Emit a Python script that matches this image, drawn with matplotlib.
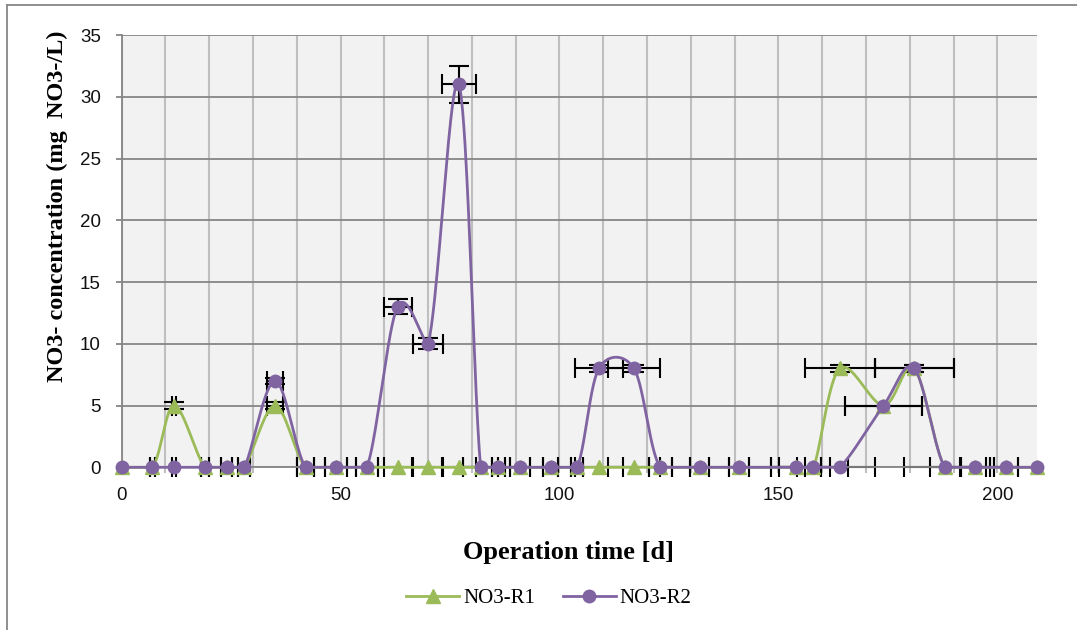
import numpy as np
import matplotlib
matplotlib.use("Agg")
import matplotlib.pyplot as plt
from matplotlib.lines import Line2D

# ---------------- data ----------------
days = [0, 7, 12, 19, 24, 28, 35, 42, 49, 56, 63, 70, 77, 82, 86, 91, 98, 104,
        109, 117, 123, 132, 141, 154, 158, 164, 174, 181, 188, 195, 202, 209]
no3_r1 = [0, 0, 5, 0, 0, 0, 5, 0, 0, 0, 0, 0, 0, 0, 0, 0, 0, 0,
          0, 0, 0, 0, 0, 0, 0, 8, 5, 8, 0, 0, 0, 0]
no3_r2 = [0, 0, 0, 0, 0, 0, 7, 0, 0, 0, 13, 10, 31, 0, 0, 0, 0, 0,
          8, 8, 0, 0, 0, 0, 0, 0, 5, 8, 0, 0, 0, 0]
xerr_r1 = [0, 0.5, 0.5, 1.0, 1.25, 1.35, 1.9, 2.0, 2.5, 2.5, 3.2, 3.5, 3.9, 4.0, 1.5, 2.2, 1.7, 1.3,
           5.5, 6.0, 2.6, 2.2, 2.3, 5.8, 3.7, 8.0, 8.7, 9.0, 3.4, 3.3, 2.7, 0]
xerr_r2 = [0, 0.5, 0.5, 1.0, 1.25, 1.35, 1.9, 2.0, 2.5, 2.5, 3.2, 3.5, 3.9, 4.0, 1.5, 2.2, 1.7, 1.3,
           5.5, 6.0, 2.6, 2.2, 2.3, 5.8, 7.9, 8.0, 8.7, 9.0, 9.4, 3.3, 2.7, 0]
yerr_r1 = [0, 0, 0.3, 0, 0, 0, 0.3, 0, 0, 0, 0, 0, 0, 0, 0, 0, 0, 0,
           0, 0, 0, 0, 0, 0, 0, 0.3, 0, 0.3, 0, 0, 0, 0]
yerr_r2 = [0, 0, 0, 0, 0, 0, 0.25, 0, 0, 0, 0.6, 0.45, 1.5, 0, 0, 0, 0, 0,
           0.3, 0.3, 0, 0, 0, 0, 0, 0, 0, 0.3, 0, 0, 0, 0]
series_names = ["NO3-R1", "NO3-R2"]
x_label = "Operation time [d]"
y_label = "NO3- concentration (mg  NO3-/L)"

GREEN = "#9BBB59"
PURPLE = "#8064A2"

fig = plt.figure(figsize=(10.77, 6.30), dpi=100)
fig.patch.set_facecolor("white")
W, H = 1077, 630
L, R, T, B = 121.7, 1036.7, 35.0, 467.3
ax = fig.add_axes([L / W, 1 - B / H, (R - L) / W, (B - T) / H])
ax.set_facecolor("#F2F2F2")
ax.set_xlim(0, 209)
ax.set_ylim(0, 35)


def smooth(ax, x, y, n=40, limit=0.5):
    """Excel-like smoothed line: Bezier segments, tangent (P2-P0)/6 computed
    in display space, limited to a fraction of the segment length and not
    allowed to sag below the lower end of its segment."""
    P = ax.transData.transform(np.column_stack([x, y]).astype(float))
    E = np.vstack([P[0], P, P[-1]])
    out = []
    t = np.linspace(0, 1, n)[:, None]
    for i in range(len(P) - 1):
        p0, p1, p2, p3 = E[i], E[i + 1], E[i + 2], E[i + 3]
        seglen = np.hypot(*(p2 - p1))
        h1 = (p2 - p0) / 6.0
        h2 = (p3 - p1) / 6.0
        for h in (h1, h2):
            ln = np.hypot(*h)
            if ln > limit * seglen and ln > 0:
                h *= limit * seglen / ln
        c1 = p1 + h1
        c2 = p2 - h2
        lo = min(p1[1], p2[1])
        c1[1] = max(c1[1], lo)
        c2[1] = max(c2[1], lo)
        seg = (1 - t) ** 3 * p1 + 3 * (1 - t) ** 2 * t * c1 + 3 * (1 - t) * t ** 2 * c2 + t ** 3 * p2
        out.append(seg if i == 0 else seg[1:])
    S = np.vstack(out)
    return ax.transData.inverted().transform(S)


x = np.array(days, dtype=float)
series = [
    (np.array(no3_r1, float), np.array(xerr_r1, float), np.array(yerr_r1, float), GREEN, "^", 10.5),
    (np.array(no3_r2, float), np.array(xerr_r2, float), np.array(yerr_r2, float), PURPLE, "o", 9.0),
]

handles = []
for k, (y, xe, ye, col, mk, ms) in enumerate(series):
    mx = xe > 0
    ax.errorbar(x[mx], y[mx], xerr=xe[mx], fmt="none", ecolor="black", elinewidth=1.5,
                capsize=7.5, capthick=1.5, zorder=2 + k * 0.1, clip_on=False)
    my = ye > 0
    if my.any():
        ax.errorbar(x[my], y[my], yerr=ye[my], fmt="none", ecolor="black", elinewidth=1.5,
                    capsize=7.5, capthick=1.5, zorder=2 + k * 0.1, clip_on=False)
for k, (y, xe, ye, col, mk, ms) in enumerate(series):
    s = smooth(ax, x, y)
    ax.plot(s[:, 0], s[:, 1], color=col, lw=2.0, zorder=3 + k, clip_on=False, solid_capstyle="round")
    ax.plot(x, y, linestyle="none", marker=mk, markersize=ms, color=col, mec=col,
            zorder=3.5 + k, clip_on=False)
    handles.append(Line2D([], [], color=col, lw=2.0, marker=mk, markersize=ms, mec=col))

ax.set_xticks([0, 50, 100, 150, 200])
ax.set_xticks(np.arange(0, 201, 10), minor=True)
ax.set_yticks(np.arange(0, 36, 5))

ax.grid(True, axis="x", which="both", color="#BFBFBF", lw=1.5, zorder=0)
ax.grid(True, axis="y", which="major", color="#868686", lw=1.3, zorder=0.5)
ax.set_axisbelow(True)

for sp in ["top", "right"]:
    ax.spines[sp].set_visible(False)
ax.spines["left"].set_color("#868686")
ax.spines["left"].set_linewidth(1.3)
ax.spines["bottom"].set_color("#868686")
ax.spines["bottom"].set_linewidth(1.3)

ax.tick_params(axis="x", which="both", direction="out", length=4, width=1.5, color="#BFBFBF",
               pad=10)
ax.tick_params(axis="y", which="major", direction="out", length=4, width=1.3, color="#868686",
               pad=11)
for lab in ax.get_xticklabels() + ax.get_yticklabels():
    lab.set_fontfamily("Liberation Sans")
    lab.set_fontsize(13.5)
    lab.set_color("#111111")

fig.text(568.8 / W, 1 - 552 / H, x_label, ha="center", va="center",
         fontfamily="Liberation Serif", fontweight="bold", fontsize=19)
fig.text(57 / W, 1 - 206 / H, y_label, ha="center", va="center", rotation=90,
         fontfamily="Liberation Serif", fontweight="bold", fontsize=17.5)

fig.legend(handles, series_names, loc="center", bbox_to_anchor=(549 / W, 1 - 598 / H),
           ncol=2, frameon=False, handlelength=2.55, handletextpad=0.2, columnspacing=1.3,
           prop={"family": "Liberation Serif", "size": 15})

# chart border (left and top edges visible)
fig.add_artist(Line2D([7 / W, 7 / W], [0, 1 - 5 / H], transform=fig.transFigure,
                      color="#868686", lw=1.3))
fig.add_artist(Line2D([7 / W, 1], [1 - 5 / H, 1 - 5 / H], transform=fig.transFigure,
                      color="#868686", lw=1.3))

fig.savefig("out.png", dpi=100, facecolor="white")
